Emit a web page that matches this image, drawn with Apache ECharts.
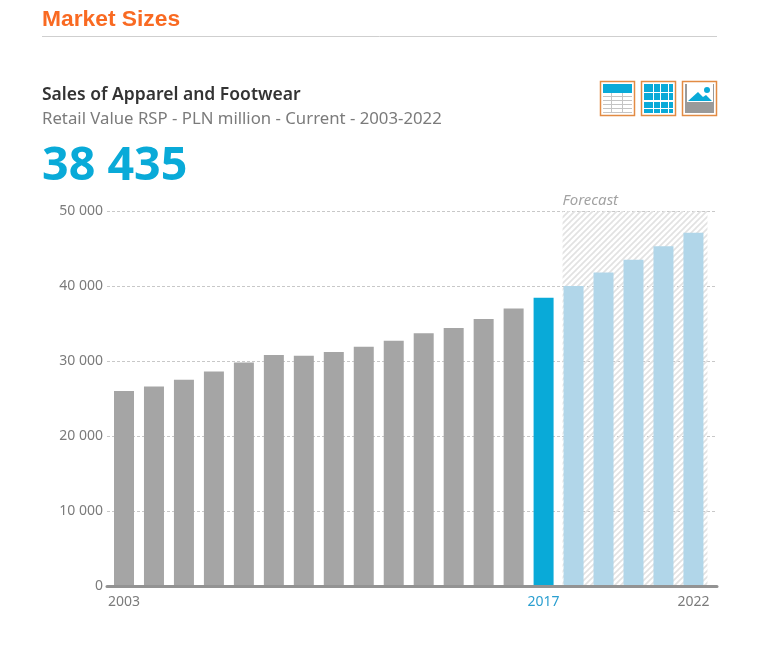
<!DOCTYPE html>
<html><head><meta charset="utf-8">
<style>html,body{margin:0;padding:0;background:#fff}#c{width:780px;height:650px}</style>
<script src="https://cdn.jsdelivr.net/npm/echarts@6/dist/echarts.min.js"></script>
</head><body><div id="c"></div>
<script>
const years = [2003,2004,2005,2006,2007,2008,2009,2010,2011,2012,2013,2014,2015,2016,2017,2018,2019,2020,2021,2022];
const sales = [26000,26600,27500,28600,29800,30800,30700,31200,31900,32700,33700,34400,35600,37000,38435,40000,41800,43500,45300,47100];
const yTicks = [0,10000,20000,30000,40000,50000];
const xLabels = [2003,2017,2022];
const currentYear = 2017;
const GREY='#a5a5a5', BLUE='#09aad8', PALE='#b1d6e9';

function hatch(){
  const c=document.createElement('canvas');c.width=c.height=6;
  const g=c.getContext('2d');g.strokeStyle='#e2e2e2';g.lineWidth=1.7;
  [[-3,3,3,-3],[0,6,6,0],[3,9,9,3]].forEach(l=>{g.beginPath();g.moveTo(l[0],l[1]);g.lineTo(l[2],l[3]);g.stroke();});
  return c;
}
const B='#e28b43', I='#09aad8';
function box(x,y,w,h,fill,z){return {type:'rect',shape:{x,y,width:w,height:h},style:{fill},silent:true,z:z||10};}
function frame(x){return {type:'rect',shape:{x:x+.5,y:81.5,width:34,height:34},style:{fill:'#fff',stroke:B,lineWidth:1.5},silent:true,z:9};}
const icons=[frame(600),box(603,84,29,9,I)];
[96,100,104,108,112].forEach(y=>icons.push(box(603,y,29,1,'#c4c4c4')));
[611,622].forEach(x=>icons.push(box(x,93,1,20,'#c4c4c4')));
icons.push(frame(641));
[644,654,661,669].forEach((x,i)=>{[84,93,102,109].forEach((y,j)=>{icons.push(box(x,y,[9,6,7,4][i],[8,7,6,4][j],I));});});
icons.push(frame(682),box(685,84,29,29,'#9a9a9a'),box(687,84,26,18,'#fff'));
icons.push({type:'polygon',shape:{points:[[688,101],[698,92],[703,97],[706,95],[712,101]]},style:{fill:I},silent:true,z:11});
icons.push({type:'circle',shape:{cx:707,cy:90,r:3},style:{fill:I},silent:true,z:11});
icons.push({type:'line',shape:{x1:42,y1:36.5,x2:717,y2:36.5},style:{stroke:'#cfcfcf',lineWidth:1},silent:true});

const chart=echarts.init(document.getElementById('c'),null,{renderer:'canvas'});
chart.setOption({
  animation:false,
  backgroundColor:'#fff',
  title:[
    {text:'Market Sizes',left:37,top:3,textStyle:{fontFamily:'Liberation Sans',fontWeight:'bold',fontSize:22.8,color:'#f96a22'}},
    {text:'Sales of Apparel and Footwear',left:37,top:81,textStyle:{fontFamily:'Noto Sans',fontWeight:600,fontSize:17.5,color:'#333'}},
    {text:'Retail Value RSP - PLN million - Current - 2003-2022',left:37,top:106,textStyle:{fontFamily:'Noto Sans',fontWeight:'normal',fontSize:16.75,color:'#7b7b7b'}},
    {text:'38 435',left:37,top:138,textStyle:{fontFamily:'Noto Sans',fontWeight:'bold',fontSize:46.6,color:BLUE}}
  ],
  graphic:icons,
  grid:{left:107,right:63,top:211,bottom:64,containLabel:false},
  xAxis:{type:'value',min:2002.4328,max:2022.786,z:6,
    axisLine:{onZero:true,lineStyle:{color:'#939393',width:3}},
    axisTick:{show:false},splitLine:{show:false},
    axisLabel:{customValues:xLabels,margin:9,fontFamily:'Noto Sans',fontSize:14,color:'#7b7b7b',
      formatter:v=>v===currentYear?'{c|'+v+'}':String(v),rich:{c:{color:'#2b9fd0',fontFamily:'Noto Sans',fontSize:14}}}},
  yAxis:{type:'value',min:yTicks[0],max:yTicks[yTicks.length-1],interval:yTicks[1]-yTicks[0],
    axisLine:{show:false},axisTick:{show:false},
    splitLine:{lineStyle:{color:'#c8c8c8',type:[3,2],width:1}},
    axisLabel:{margin:4,padding:[3,0,0,0],fontFamily:'Noto Sans',fontSize:14,color:'#7b7b7b',
      formatter:v=>String(v).replace(/\B(?=(\d{3})+$)/g,' ')}},
  series:[{
    type:'bar',barWidth:20,z:3,
    data:years.map((y,i)=>({value:[y,sales[i]],itemStyle:{color:y<currentYear?GREY:y===currentYear?BLUE:PALE}})),
    markArea:{silent:true,z:1,
      itemStyle:{color:{image:hatch(),repeat:'repeat'}},
      label:{show:true,position:[0,-18],formatter:'Forecast',fontFamily:'Noto Sans',fontStyle:'italic',fontSize:15,color:'#a3a3a3'},
      data:[[{xAxis:2017.633,yAxis:50000},{xAxis:2022.467,yAxis:0}]]}
  }]
});
</script></body></html>
